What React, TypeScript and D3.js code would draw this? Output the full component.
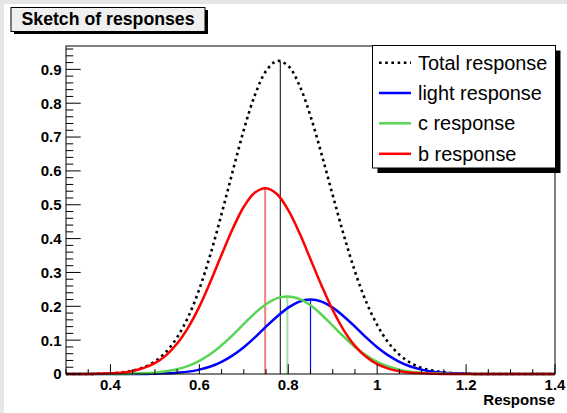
import React from 'react';
import * as d3 from 'd3';

// ---- data ----
const xSamples = [
  0.3, 0.325, 0.35, 0.375, 0.4, 0.425, 0.45, 0.475, 0.5, 0.525, 0.55, 0.575,
  0.6, 0.625, 0.65, 0.675, 0.7, 0.725, 0.75, 0.775, 0.8, 0.825, 0.85, 0.875,
  0.9, 0.925, 0.95, 0.975, 1.0, 1.025, 1.05, 1.075, 1.1, 1.125, 1.15, 1.175,
  1.2, 1.225, 1.25, 1.275, 1.3, 1.325, 1.35, 1.375, 1.4,
];

const totalResponse = [
  0, 0, 0, 0.001, 0.002, 0.005, 0.01, 0.02, 0.037, 0.065, 0.108, 0.169,
  0.251, 0.354, 0.473, 0.599, 0.721, 0.824, 0.895, 0.925, 0.91, 0.853, 0.762, 0.649,
  0.528, 0.41, 0.303, 0.214, 0.145, 0.093, 0.057, 0.033, 0.018, 0.01, 0.005, 0.002,
  0.001, 0, 0, 0, 0, 0, 0, 0, 0,
];

const lightResponse = [
  0, 0, 0, 0, 0, 0, 0, 0, 0.001, 0.002, 0.004, 0.007,
  0.013, 0.022, 0.036, 0.055, 0.079, 0.108, 0.14, 0.17, 0.196, 0.214, 0.22, 0.214,
  0.196, 0.17, 0.14, 0.108, 0.079, 0.055, 0.036, 0.022, 0.013, 0.007, 0.004, 0.002,
  0.001, 0, 0, 0, 0, 0, 0, 0, 0,
];

const cResponse = [
  0, 0, 0, 0, 0, 0, 0.001, 0.002, 0.004, 0.008, 0.014, 0.024,
  0.039, 0.059, 0.085, 0.115, 0.148, 0.18, 0.206, 0.224, 0.229, 0.222, 0.203, 0.175,
  0.143, 0.11, 0.08, 0.055, 0.036, 0.022, 0.013, 0.007, 0.004, 0.002, 0.001, 0,
  0, 0, 0, 0, 0, 0, 0, 0, 0,
];

const bResponse = [
  0, 0, 0, 0.001, 0.002, 0.004, 0.009, 0.018, 0.032, 0.055, 0.09, 0.138,
  0.199, 0.273, 0.352, 0.429, 0.494, 0.536, 0.549, 0.531, 0.484, 0.417, 0.339, 0.261,
  0.189, 0.129, 0.083, 0.051, 0.029, 0.016, 0.008, 0.004, 0.002, 0.001, 0, 0,
  0, 0, 0, 0, 0, 0, 0, 0, 0,
];

// vertical marker lines (position of maximum, height of maximum)
const markerNames = ['total', 'light', 'c', 'b'];
const markerX = [0.782, 0.85, 0.798, 0.748];
const markerY = [0.924, 0.22, 0.229, 0.549];

const legendLabels = ['Total response', 'light response', 'c response', 'b response'];
const xTickLabels = ['0.4', '0.6', '0.8', '1', '1.2', '1.4'];
const xTickValues = [0.4, 0.6, 0.8, 1.0, 1.2, 1.4];
const yTickValues = [0, 0.1, 0.2, 0.3, 0.4, 0.5, 0.6, 0.7, 0.8, 0.9];
const yTickLabels = ['0', '0.1', '0.2', '0.3', '0.4', '0.5', '0.6', '0.7', '0.8', '0.9'];
const xDomain = [0.3, 1.4];
const yDomain = [0, 0.969];
const titleText = 'Sketch of responses';
const xAxisTitle = 'Response';

const FONT = '"Liberation Sans", Arial, Helvetica, sans-serif';
const GREEN = '#59d454';

export default function App() {
  const W = 567;
  const H = 413;
  const fl = 66, fr = 555, ft = 46, fb = 374;
  const x = d3.scaleLinear().domain(xDomain).range([fl, fr]);
  const y = d3.scaleLinear().domain(yDomain).range([fb, ft]);

  const mk = (vals: number[]) =>
    d3
      .line<number>()
      .x((_, i) => x(xSamples[i]))
      .y((v) => y(v))
      .curve(d3.curveCatmullRom.alpha(0.5))(vals) || '';

  const xMinor = d3.range(0, 23).map((i) => 0.3 + i * 0.05);
  const yMinor = d3.range(0, 49).map((i) => i * 0.02);

  const styles = [
    { stroke: '#000', width: 2.6, dash: '2.6 3.6' },
    { stroke: '#0000ff', width: 2.5, dash: undefined },
    { stroke: GREEN, width: 2.5, dash: undefined },
    { stroke: '#ff0000', width: 2.5, dash: undefined },
  ];
  const series = [totalResponse, lightResponse, cResponse, bResponse];
  const markerStyles = [
    { stroke: '#000', width: 1 },
    { stroke: '#0000ff', width: 1.2 },
    { stroke: '#9fe39c', width: 2 },
    { stroke: '#f58080', width: 2 },
  ];

  // legend geometry
  const lgX = 372.5, lgY = 45.5, lgW = 183, lgH = 122.5;
  const rowY = [62.7, 93, 123.3, 153.8];

  return (
    <svg
      width={W}
      height={H}
      style={{ position: 'absolute', left: 0, top: 0, background: '#fff' }}
      fontFamily={FONT}
    >
      <rect x={0} y={0} width={W} height={H} fill="#fff" />
      <rect x={0} y={0} width={W} height={4} fill="#e6e6e6" />
      <rect x={0} y={0} width={4} height={H} fill="#e6e6e6" />

      <defs>
        <clipPath id="frameclip">
          <rect x={fl} y={ft - 5} width={fr - fl} height={fb - ft + 10} />
        </clipPath>
      </defs>

      {/* marker lines */}
      {markerX.map((mx, i) => (
        <line
          key={markerNames[i]}
          x1={x(mx)}
          x2={x(mx)}
          y1={y(0)}
          y2={y(markerY[i])}
          stroke={markerStyles[i].stroke}
          strokeWidth={markerStyles[i].width}
        />
      ))}

      {/* curves */}
      <g clipPath="url(#frameclip)">
        {series.map((s, i) => (
          <path
            key={i}
            d={mk(s)}
            fill="none"
            stroke={styles[i].stroke}
            strokeWidth={styles[i].width}
            strokeDasharray={styles[i].dash}
          />
        ))}
      </g>

      {/* frame */}
      <rect x={fl} y={ft} width={fr - fl} height={fb - ft} fill="none" stroke="#000" strokeWidth={1} />

      {/* x ticks */}
      {xMinor.map((v, i) => {
        const major = xTickValues.some((t) => Math.abs(t - v) < 1e-6);
        return (
          <line key={'xm' + i} x1={x(v)} x2={x(v)} y1={fb} y2={fb - (major ? 9.8 : 4.9)} stroke="#000" strokeWidth={1} />
        );
      })}
      {/* y ticks */}
      {yMinor.map((v, i) => {
        const major = i % 5 === 0;
        return (
          <line key={'ym' + i} x1={fl} x2={fl + (major ? 14.7 : 7.3)} y1={y(v)} y2={y(v)} stroke="#000" strokeWidth={1} />
        );
      })}

      {/* tick labels */}
      {xTickValues.map((v, i) => (
        <text key={'xl' + i} x={x(v)} y={389.5} textAnchor="middle" fontSize={15} fontWeight="bold" fill="#000">
          {xTickLabels[i]}
        </text>
      ))}
      {yTickValues.map((v, i) => (
        <text key={'yl' + i} x={61.5} y={y(v)} dy="0.36em" textAnchor="end" fontSize={15} fontWeight="bold" fill="#000">
          {yTickLabels[i]}
        </text>
      ))}
      <text x={fr} y={405} textAnchor="end" fontSize={15} fontWeight="bold" fill="#000">
        {xAxisTitle}
      </text>

      {/* title box */}
      <rect x={14} y={10} width={194} height={24} fill="#000" />
      <rect x={11} y={7.5} width={194} height={24} fill="#efefef" stroke="#000" strokeWidth={1} />
      <text x={21.5} y={25} fontSize={17.7} fontWeight="bold" fill="#000">
        {titleText}
      </text>

      {/* legend */}
      <rect x={lgX + 5} y={lgY + 5} width={lgW} height={lgH} fill="#000" />
      <rect x={lgX} y={lgY} width={lgW} height={lgH} fill="#fff" stroke="#000" strokeWidth={1} />
      {legendLabels.map((lab, i) => (
        <g key={lab}>
          <line
            x1={379}
            x2={411}
            y1={rowY[i]}
            y2={rowY[i]}
            stroke={styles[i].stroke}
            strokeWidth={styles[i].width}
            strokeDasharray={styles[i].dash}
          />
          <text x={418} y={rowY[i] + 7} fontSize={19.9} fill="#000">
            {lab}
          </text>
        </g>
      ))}
    </svg>
  );
}
